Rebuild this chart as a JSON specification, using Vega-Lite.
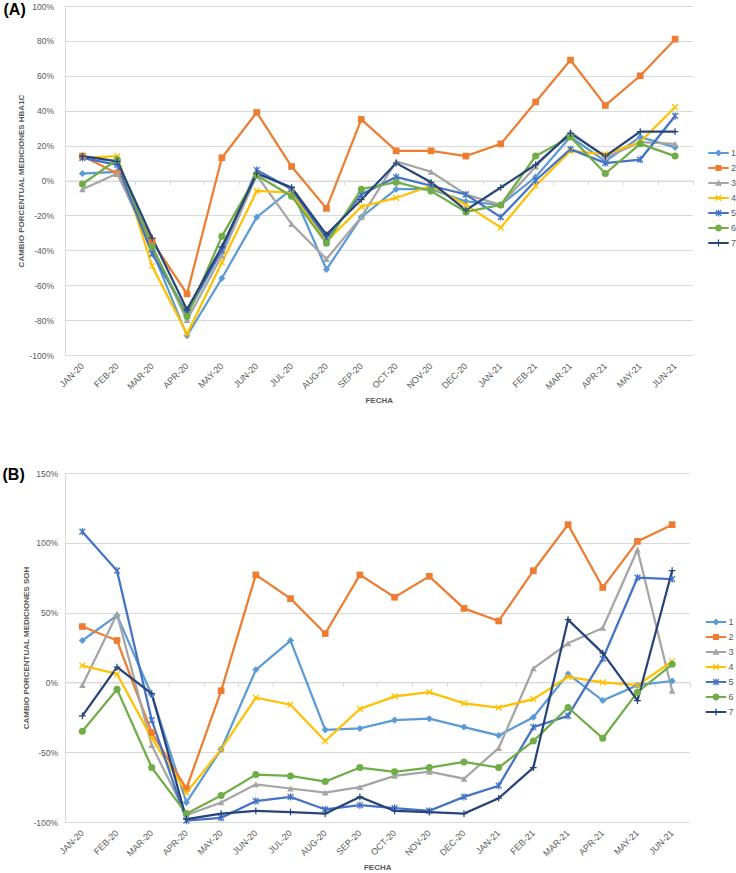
{
"$schema":"https://vega.github.io/schema/vega-lite/v6.json",
"padding":{"left":2,"top":1,"right":0,"bottom":0},
"spacing":61,
"datasets":{
"a":[
{"fecha":"JAN-20","serie":"1","valor":4},{"fecha":"JAN-20","serie":"2","valor":14},{"fecha":"JAN-20","serie":"3","valor":-5},{"fecha":"JAN-20","serie":"4","valor":13},{"fecha":"JAN-20","serie":"5","valor":13},{"fecha":"JAN-20","serie":"6","valor":-2},{"fecha":"JAN-20","serie":"7","valor":14},
{"fecha":"FEB-20","serie":"1","valor":5},{"fecha":"FEB-20","serie":"2","valor":4},{"fecha":"FEB-20","serie":"3","valor":4},{"fecha":"FEB-20","serie":"4","valor":14},{"fecha":"FEB-20","serie":"5","valor":9},{"fecha":"FEB-20","serie":"6","valor":12},{"fecha":"FEB-20","serie":"7","valor":11},
{"fecha":"MAR-20","serie":"1","valor":-40},{"fecha":"MAR-20","serie":"2","valor":-35},{"fecha":"MAR-20","serie":"3","valor":-38},{"fecha":"MAR-20","serie":"4","valor":-49},{"fecha":"MAR-20","serie":"5","valor":-42},{"fecha":"MAR-20","serie":"6","valor":-38},{"fecha":"MAR-20","serie":"7","valor":-33},
{"fecha":"APR-20","serie":"1","valor":-89},{"fecha":"APR-20","serie":"2","valor":-65},{"fecha":"APR-20","serie":"3","valor":-80},{"fecha":"APR-20","serie":"4","valor":-88},{"fecha":"APR-20","serie":"5","valor":-76},{"fecha":"APR-20","serie":"6","valor":-78},{"fecha":"APR-20","serie":"7","valor":-74},
{"fecha":"MAY-20","serie":"1","valor":-56},{"fecha":"MAY-20","serie":"2","valor":13},{"fecha":"MAY-20","serie":"3","valor":-43},{"fecha":"MAY-20","serie":"4","valor":-47},{"fecha":"MAY-20","serie":"5","valor":-40},{"fecha":"MAY-20","serie":"6","valor":-32},{"fecha":"MAY-20","serie":"7","valor":-38},
{"fecha":"JUN-20","serie":"1","valor":-21},{"fecha":"JUN-20","serie":"2","valor":39},{"fecha":"JUN-20","serie":"3","valor":3},{"fecha":"JUN-20","serie":"4","valor":-6},{"fecha":"JUN-20","serie":"5","valor":6},{"fecha":"JUN-20","serie":"6","valor":3},{"fecha":"JUN-20","serie":"7","valor":4},
{"fecha":"JUL-20","serie":"1","valor":-5},{"fecha":"JUL-20","serie":"2","valor":8},{"fecha":"JUL-20","serie":"3","valor":-25},{"fecha":"JUL-20","serie":"4","valor":-7},{"fecha":"JUL-20","serie":"5","valor":-5},{"fecha":"JUL-20","serie":"6","valor":-9},{"fecha":"JUL-20","serie":"7","valor":-4},
{"fecha":"AUG-20","serie":"1","valor":-51},{"fecha":"AUG-20","serie":"2","valor":-16},{"fecha":"AUG-20","serie":"3","valor":-45},{"fecha":"AUG-20","serie":"4","valor":-35},{"fecha":"AUG-20","serie":"5","valor":-33},{"fecha":"AUG-20","serie":"6","valor":-36},{"fecha":"AUG-20","serie":"7","valor":-31},
{"fecha":"SEP-20","serie":"1","valor":-21},{"fecha":"SEP-20","serie":"2","valor":35},{"fecha":"SEP-20","serie":"3","valor":-21},{"fecha":"SEP-20","serie":"4","valor":-15},{"fecha":"SEP-20","serie":"5","valor":-8},{"fecha":"SEP-20","serie":"6","valor":-5},{"fecha":"SEP-20","serie":"7","valor":-11},
{"fecha":"OCT-20","serie":"1","valor":-5},{"fecha":"OCT-20","serie":"2","valor":17},{"fecha":"OCT-20","serie":"3","valor":11},{"fecha":"OCT-20","serie":"4","valor":-10},{"fecha":"OCT-20","serie":"5","valor":2},{"fecha":"OCT-20","serie":"6","valor":-1},{"fecha":"OCT-20","serie":"7","valor":10},
{"fecha":"NOV-20","serie":"1","valor":-5},{"fecha":"NOV-20","serie":"2","valor":17},{"fecha":"NOV-20","serie":"3","valor":5},{"fecha":"NOV-20","serie":"4","valor":-3},{"fecha":"NOV-20","serie":"5","valor":-3},{"fecha":"NOV-20","serie":"6","valor":-6},{"fecha":"NOV-20","serie":"7","valor":-1},
{"fecha":"DEC-20","serie":"1","valor":-12},{"fecha":"DEC-20","serie":"2","valor":14},{"fecha":"DEC-20","serie":"3","valor":-8},{"fecha":"DEC-20","serie":"4","valor":-14},{"fecha":"DEC-20","serie":"5","valor":-8},{"fecha":"DEC-20","serie":"6","valor":-18},{"fecha":"DEC-20","serie":"7","valor":-17},
{"fecha":"JAN-21","serie":"1","valor":-14},{"fecha":"JAN-21","serie":"2","valor":21},{"fecha":"JAN-21","serie":"3","valor":-14},{"fecha":"JAN-21","serie":"4","valor":-27},{"fecha":"JAN-21","serie":"5","valor":-21},{"fecha":"JAN-21","serie":"6","valor":-14},{"fecha":"JAN-21","serie":"7","valor":-4},
{"fecha":"FEB-21","serie":"1","valor":2},{"fecha":"FEB-21","serie":"2","valor":45},{"fecha":"FEB-21","serie":"3","valor":8},{"fecha":"FEB-21","serie":"4","valor":-3},{"fecha":"FEB-21","serie":"5","valor":0},{"fecha":"FEB-21","serie":"6","valor":14},{"fecha":"FEB-21","serie":"7","valor":9},
{"fecha":"MAR-21","serie":"1","valor":25},{"fecha":"MAR-21","serie":"2","valor":69},{"fecha":"MAR-21","serie":"3","valor":28},{"fecha":"MAR-21","serie":"4","valor":17},{"fecha":"MAR-21","serie":"5","valor":18},{"fecha":"MAR-21","serie":"6","valor":25},{"fecha":"MAR-21","serie":"7","valor":27},
{"fecha":"APR-21","serie":"1","valor":11},{"fecha":"APR-21","serie":"2","valor":43},{"fecha":"APR-21","serie":"3","valor":13},{"fecha":"APR-21","serie":"4","valor":15},{"fecha":"APR-21","serie":"5","valor":10},{"fecha":"APR-21","serie":"6","valor":4},{"fecha":"APR-21","serie":"7","valor":14},
{"fecha":"MAY-21","serie":"1","valor":25},{"fecha":"MAY-21","serie":"2","valor":60},{"fecha":"MAY-21","serie":"3","valor":22},{"fecha":"MAY-21","serie":"4","valor":22},{"fecha":"MAY-21","serie":"5","valor":12},{"fecha":"MAY-21","serie":"6","valor":21},{"fecha":"MAY-21","serie":"7","valor":28},
{"fecha":"JUN-21","serie":"1","valor":19},{"fecha":"JUN-21","serie":"2","valor":81},{"fecha":"JUN-21","serie":"3","valor":21},{"fecha":"JUN-21","serie":"4","valor":42},{"fecha":"JUN-21","serie":"5","valor":37},{"fecha":"JUN-21","serie":"6","valor":14},{"fecha":"JUN-21","serie":"7","valor":28}
],
"b":[
{"fecha":"JAN-20","serie":"1","valor":30},{"fecha":"JAN-20","serie":"2","valor":40},{"fecha":"JAN-20","serie":"3","valor":-2},{"fecha":"JAN-20","serie":"4","valor":12},{"fecha":"JAN-20","serie":"5","valor":108},{"fecha":"JAN-20","serie":"6","valor":-35},{"fecha":"JAN-20","serie":"7","valor":-24},
{"fecha":"FEB-20","serie":"1","valor":48},{"fecha":"FEB-20","serie":"2","valor":30},{"fecha":"FEB-20","serie":"3","valor":49},{"fecha":"FEB-20","serie":"4","valor":6},{"fecha":"FEB-20","serie":"5","valor":80},{"fecha":"FEB-20","serie":"6","valor":-5},{"fecha":"FEB-20","serie":"7","valor":11},
{"fecha":"MAR-20","serie":"1","valor":-9},{"fecha":"MAR-20","serie":"2","valor":-36},{"fecha":"MAR-20","serie":"3","valor":-45},{"fecha":"MAR-20","serie":"4","valor":-40},{"fecha":"MAR-20","serie":"5","valor":-27},{"fecha":"MAR-20","serie":"6","valor":-61},{"fecha":"MAR-20","serie":"7","valor":-8},
{"fecha":"APR-20","serie":"1","valor":-86},{"fecha":"APR-20","serie":"2","valor":-76},{"fecha":"APR-20","serie":"3","valor":-95},{"fecha":"APR-20","serie":"4","valor":-79},{"fecha":"APR-20","serie":"5","valor":-99},{"fecha":"APR-20","serie":"6","valor":-94},{"fecha":"APR-20","serie":"7","valor":-98},
{"fecha":"MAY-20","serie":"1","valor":-48},{"fecha":"MAY-20","serie":"2","valor":-6},{"fecha":"MAY-20","serie":"3","valor":-86},{"fecha":"MAY-20","serie":"4","valor":-48},{"fecha":"MAY-20","serie":"5","valor":-97},{"fecha":"MAY-20","serie":"6","valor":-81},{"fecha":"MAY-20","serie":"7","valor":-94},
{"fecha":"JUN-20","serie":"1","valor":9},{"fecha":"JUN-20","serie":"2","valor":77},{"fecha":"JUN-20","serie":"3","valor":-73},{"fecha":"JUN-20","serie":"4","valor":-11},{"fecha":"JUN-20","serie":"5","valor":-85},{"fecha":"JUN-20","serie":"6","valor":-66},{"fecha":"JUN-20","serie":"7","valor":-92},
{"fecha":"JUL-20","serie":"1","valor":30},{"fecha":"JUL-20","serie":"2","valor":60},{"fecha":"JUL-20","serie":"3","valor":-76},{"fecha":"JUL-20","serie":"4","valor":-16},{"fecha":"JUL-20","serie":"5","valor":-82},{"fecha":"JUL-20","serie":"6","valor":-67},{"fecha":"JUL-20","serie":"7","valor":-93},
{"fecha":"AUG-20","serie":"1","valor":-34},{"fecha":"AUG-20","serie":"2","valor":35},{"fecha":"AUG-20","serie":"3","valor":-79},{"fecha":"AUG-20","serie":"4","valor":-42},{"fecha":"AUG-20","serie":"5","valor":-91},{"fecha":"AUG-20","serie":"6","valor":-71},{"fecha":"AUG-20","serie":"7","valor":-94},
{"fecha":"SEP-20","serie":"1","valor":-33},{"fecha":"SEP-20","serie":"2","valor":77},{"fecha":"SEP-20","serie":"3","valor":-75},{"fecha":"SEP-20","serie":"4","valor":-19},{"fecha":"SEP-20","serie":"5","valor":-88},{"fecha":"SEP-20","serie":"6","valor":-61},{"fecha":"SEP-20","serie":"7","valor":-82},
{"fecha":"OCT-20","serie":"1","valor":-27},{"fecha":"OCT-20","serie":"2","valor":61},{"fecha":"OCT-20","serie":"3","valor":-67},{"fecha":"OCT-20","serie":"4","valor":-10},{"fecha":"OCT-20","serie":"5","valor":-90},{"fecha":"OCT-20","serie":"6","valor":-64},{"fecha":"OCT-20","serie":"7","valor":-92},
{"fecha":"NOV-20","serie":"1","valor":-26},{"fecha":"NOV-20","serie":"2","valor":76},{"fecha":"NOV-20","serie":"3","valor":-64},{"fecha":"NOV-20","serie":"4","valor":-7},{"fecha":"NOV-20","serie":"5","valor":-92},{"fecha":"NOV-20","serie":"6","valor":-61},{"fecha":"NOV-20","serie":"7","valor":-93},
{"fecha":"DEC-20","serie":"1","valor":-32},{"fecha":"DEC-20","serie":"2","valor":53},{"fecha":"DEC-20","serie":"3","valor":-69},{"fecha":"DEC-20","serie":"4","valor":-15},{"fecha":"DEC-20","serie":"5","valor":-82},{"fecha":"DEC-20","serie":"6","valor":-57},{"fecha":"DEC-20","serie":"7","valor":-94},
{"fecha":"JAN-21","serie":"1","valor":-38},{"fecha":"JAN-21","serie":"2","valor":44},{"fecha":"JAN-21","serie":"3","valor":-47},{"fecha":"JAN-21","serie":"4","valor":-18},{"fecha":"JAN-21","serie":"5","valor":-74},{"fecha":"JAN-21","serie":"6","valor":-61},{"fecha":"JAN-21","serie":"7","valor":-83},
{"fecha":"FEB-21","serie":"1","valor":-25},{"fecha":"FEB-21","serie":"2","valor":80},{"fecha":"FEB-21","serie":"3","valor":10},{"fecha":"FEB-21","serie":"4","valor":-12},{"fecha":"FEB-21","serie":"5","valor":-32},{"fecha":"FEB-21","serie":"6","valor":-42},{"fecha":"FEB-21","serie":"7","valor":-61},
{"fecha":"MAR-21","serie":"1","valor":6},{"fecha":"MAR-21","serie":"2","valor":113},{"fecha":"MAR-21","serie":"3","valor":28},{"fecha":"MAR-21","serie":"4","valor":4},{"fecha":"MAR-21","serie":"5","valor":-24},{"fecha":"MAR-21","serie":"6","valor":-18},{"fecha":"MAR-21","serie":"7","valor":45},
{"fecha":"APR-21","serie":"1","valor":-13},{"fecha":"APR-21","serie":"2","valor":68},{"fecha":"APR-21","serie":"3","valor":39},{"fecha":"APR-21","serie":"4","valor":0},{"fecha":"APR-21","serie":"5","valor":17},{"fecha":"APR-21","serie":"6","valor":-40},{"fecha":"APR-21","serie":"7","valor":21},
{"fecha":"MAY-21","serie":"1","valor":-2},{"fecha":"MAY-21","serie":"2","valor":101},{"fecha":"MAY-21","serie":"3","valor":95},{"fecha":"MAY-21","serie":"4","valor":-2},{"fecha":"MAY-21","serie":"5","valor":75},{"fecha":"MAY-21","serie":"6","valor":-7},{"fecha":"MAY-21","serie":"7","valor":-13},
{"fecha":"JUN-21","serie":"1","valor":1},{"fecha":"JUN-21","serie":"2","valor":113},{"fecha":"JUN-21","serie":"3","valor":-6},{"fecha":"JUN-21","serie":"4","valor":15},{"fecha":"JUN-21","serie":"5","valor":74},{"fecha":"JUN-21","serie":"6","valor":13},{"fecha":"JUN-21","serie":"7","valor":80}
]
},
"resolve":{"scale":{"color":"independent"},"legend":{"color":"independent"}},
"vconcat":[
{
"width":627.5,"height":349,
"data":{"name":"a"},
"title":{"text":"(A)","anchor":"start","frame":"group","dx":-61.5,"offset":-28.5,"baseline":"alphabetic","fontSize":16,"fontWeight":"bold","color":"#000000","font":"Liberation Sans"},
"encoding":{
"y":{"field":"valor","type":"quantitative","scale":{"domain":[-100,100],"nice":false,"zero":false},
"axis":{"values":[-100,-80,-60,-40,-20,0,20,40,60,80,100],"labelExpr":"datum.value + '%'","title":"CAMBIO PORCENTUAL MEDICIONES HBA1C","grid":true,"gridColor":"#D9D9D9","domain":true,"domainColor":"#D9D9D9","ticks":false,"labelPadding":11.5,"labelFontSize":8.5,"labelColor":"#595959","titleFontSize":8,"titleFontWeight":"bold","titleColor":"#595959","titlePadding":3}}
},
"resolve":{"axis":{"x":"independent"}},
"layer":[
{"mark":{"type":"line","strokeWidth":2.25},
"encoding":{"x":{"field":"fecha","type":"ordinal","sort":["JAN-20","FEB-20","MAR-20","APR-20","MAY-20","JUN-20","JUL-20","AUG-20","SEP-20","OCT-20","NOV-20","DEC-20","JAN-21","FEB-21","MAR-21","APR-21","MAY-21","JUN-21"],"bandPosition":0.5,"scale":{"type":"band","paddingInner":0,"paddingOuter":0},
"axis":{"orient":"bottom","title":"FECHA","labelAngle":-45,"labelAlign":"right","labelBaseline":"middle","labelPadding":9,"ticks":false,"domain":false,"grid":false,"labelFontSize":9,"labelColor":"#595959","titleFontSize":8,"titleFontWeight":"bold","titleColor":"#595959","titlePadding":6}},
"color":{"field":"serie","type":"nominal","scale":{"domain":["1","2","3","4","5","6","7"],"range":["#5B9BD5","#ED7D31","#A5A5A5","#FFC000","#4472C4","#70AD47","#264478"]},
"legend":{"orient":"none","legendX":645,"legendY":138.5,"title":null,"symbolSize":289,"padding":0,"rowPadding":1,"labelFontSize":9,"labelColor":"#595959","labelOffset":4,
"encode":{"symbols":{"update":{
"shape":{"signal":"['M-1.2,-0.13H1.2V0.13H-1.2ZM0,-0.42L0.42,0L0,0.42L-0.42,0Z','M-1.2,-0.13H1.2V0.13H-1.2ZM-0.36,-0.36H0.36V0.36H-0.36Z','M-1.2,-0.13H1.2V0.13H-1.2ZM0,-0.4L0.42,0.32H-0.42Z','M-1.2,-0.13H1.2V0.13H-1.2ZM-0.38,-0.27L-0.27,-0.38L0.38,0.27L0.27,0.38ZM0.27,-0.38L0.38,-0.27L-0.27,0.38L-0.38,0.27Z','M-1.2,-0.13H1.2V0.13H-1.2ZM-0.38,-0.27L-0.27,-0.38L0.38,0.27L0.27,0.38ZM0.27,-0.38L0.38,-0.27L-0.27,0.38L-0.38,0.27ZM-0.07,-0.42H0.07V0.42H-0.07Z','M-1.2,-0.13H1.2V0.13H-1.2ZM0.4,0A0.4,0.4 0 1 1 -0.4,0A0.4,0.4 0 1 1 0.4,0Z','M-1.2,-0.13H1.2V0.13H-1.2ZM-0.4,-0.07H-0.07V-0.4H0.07V-0.07H0.4V0.07H0.07V0.4H-0.07V0.07H-0.4Z'][toNumber(datum.value)-1]"},
"fill":{"signal":"['#5B9BD5','#ED7D31','#A5A5A5','#FFC000','#4472C4','#70AD47','#264478'][toNumber(datum.value)-1]"},
"stroke":{"value":"transparent"},"strokeWidth":{"value":0},"opacity":{"value":1}}}}}}}},
{"encoding":{"x":{"field":"fecha","type":"ordinal","sort":["JAN-20","FEB-20","MAR-20","APR-20","MAY-20","JUN-20","JUL-20","AUG-20","SEP-20","OCT-20","NOV-20","DEC-20","JAN-21","FEB-21","MAR-21","APR-21","MAY-21","JUN-21"],"bandPosition":0.5,"scale":{"type":"band","paddingInner":0,"paddingOuter":0},
"axis":{"orient":"bottom","offset":-174.5,"labels":false,"title":null,"ticks":true,"tickBand":"extent","tickSize":4,"tickColor":"#D9D9D9","domain":true,"domainColor":"#D9D9D9","grid":false}},
"color":{"field":"serie","type":"nominal","legend":null}},
"layer":[
{"transform":[{"filter":{"field":"serie","equal":"1"}}],"mark":{"type":"point","shape":"diamond","filled":true,"size":50,"opacity":1,"strokeWidth":0}},
{"transform":[{"filter":{"field":"serie","equal":"2"}}],"mark":{"type":"point","shape":"square","filled":true,"size":45,"opacity":1,"strokeWidth":0}},
{"transform":[{"filter":{"field":"serie","equal":"3"}}],"mark":{"type":"point","shape":"triangle-up","filled":true,"size":45,"opacity":1,"strokeWidth":0}},
{"transform":[{"filter":{"field":"serie","equal":"4"}}],"mark":{"type":"point","shape":"M-1,-0.72L-0.72,-1L1,0.72L0.72,1ZM0.72,-1L1,-0.72L-0.72,1L-1,0.72Z","filled":true,"size":45,"opacity":1,"strokeWidth":0}},
{"transform":[{"filter":{"field":"serie","equal":"5"}}],"mark":{"type":"point","shape":"M-1,-0.72L-0.72,-1L1,0.72L0.72,1ZM0.72,-1L1,-0.72L-0.72,1L-1,0.72ZM-0.18,-1.1H0.18V1.1H-0.18Z","filled":true,"size":45,"opacity":1,"strokeWidth":0}},
{"transform":[{"filter":{"field":"serie","equal":"6"}}],"mark":{"type":"point","shape":"circle","filled":true,"size":50,"opacity":1,"strokeWidth":0}},
{"transform":[{"filter":{"field":"serie","equal":"7"}}],"mark":{"type":"point","shape":"M-1,-0.18H-0.18V-1H0.18V-0.18H1V0.18H0.18V1H-0.18V0.18H-1Z","filled":true,"size":45,"opacity":1,"strokeWidth":0}}
]}
]
},
{
"width":624.5,"height":349,
"data":{"name":"b"},
"title":{"text":"(B)","anchor":"start","frame":"group","dx":-62.5,"offset":-26.5,"baseline":"alphabetic","fontSize":16,"fontWeight":"bold","color":"#000000","font":"Liberation Sans"},
"encoding":{
"y":{"field":"valor","type":"quantitative","scale":{"domain":[-100,150],"nice":false,"zero":false},
"axis":{"values":[-100,-50,0,50,100,150],"labelExpr":"datum.value + '%'","title":"CAMBIO PORCENTUAL MEDICIONES SOH","grid":true,"gridColor":"#D9D9D9","domain":true,"domainColor":"#D9D9D9","ticks":false,"labelPadding":7.5,"labelFontSize":8.5,"labelColor":"#595959","titleFontSize":8,"titleFontWeight":"bold","titleColor":"#595959","titlePadding":2}}
},
"resolve":{"axis":{"x":"independent"}},
"layer":[
{"mark":{"type":"line","strokeWidth":2.25},
"encoding":{"x":{"field":"fecha","type":"ordinal","sort":["JAN-20","FEB-20","MAR-20","APR-20","MAY-20","JUN-20","JUL-20","AUG-20","SEP-20","OCT-20","NOV-20","DEC-20","JAN-21","FEB-21","MAR-21","APR-21","MAY-21","JUN-21"],"bandPosition":0.5,"scale":{"type":"band","paddingInner":0,"paddingOuter":0},
"axis":{"orient":"bottom","title":"FECHA","labelAngle":-45,"labelAlign":"right","labelBaseline":"middle","labelPadding":9,"ticks":false,"domain":false,"grid":false,"labelFontSize":9,"labelColor":"#595959","titleFontSize":8,"titleFontWeight":"bold","titleColor":"#595959","titlePadding":6}},
"color":{"field":"serie","type":"nominal","scale":{"domain":["1","2","3","4","5","6","7"],"range":["#5B9BD5","#ED7D31","#A5A5A5","#FFC000","#4472C4","#70AD47","#264478"]},
"legend":{"orient":"none","legendX":642.5,"legendY":140.5,"title":null,"symbolSize":289,"padding":0,"rowPadding":1,"labelFontSize":9,"labelColor":"#595959","labelOffset":4,
"encode":{"symbols":{"update":{
"shape":{"signal":"['M-1.2,-0.13H1.2V0.13H-1.2ZM0,-0.42L0.42,0L0,0.42L-0.42,0Z','M-1.2,-0.13H1.2V0.13H-1.2ZM-0.36,-0.36H0.36V0.36H-0.36Z','M-1.2,-0.13H1.2V0.13H-1.2ZM0,-0.4L0.42,0.32H-0.42Z','M-1.2,-0.13H1.2V0.13H-1.2ZM-0.38,-0.27L-0.27,-0.38L0.38,0.27L0.27,0.38ZM0.27,-0.38L0.38,-0.27L-0.27,0.38L-0.38,0.27Z','M-1.2,-0.13H1.2V0.13H-1.2ZM-0.38,-0.27L-0.27,-0.38L0.38,0.27L0.27,0.38ZM0.27,-0.38L0.38,-0.27L-0.27,0.38L-0.38,0.27ZM-0.07,-0.42H0.07V0.42H-0.07Z','M-1.2,-0.13H1.2V0.13H-1.2ZM0.4,0A0.4,0.4 0 1 1 -0.4,0A0.4,0.4 0 1 1 0.4,0Z','M-1.2,-0.13H1.2V0.13H-1.2ZM-0.4,-0.07H-0.07V-0.4H0.07V-0.07H0.4V0.07H0.07V0.4H-0.07V0.07H-0.4Z'][toNumber(datum.value)-1]"},
"fill":{"signal":"['#5B9BD5','#ED7D31','#A5A5A5','#FFC000','#4472C4','#70AD47','#264478'][toNumber(datum.value)-1]"},
"stroke":{"value":"transparent"},"strokeWidth":{"value":0},"opacity":{"value":1}}}}}}}},
{"encoding":{"x":{"field":"fecha","type":"ordinal","sort":["JAN-20","FEB-20","MAR-20","APR-20","MAY-20","JUN-20","JUL-20","AUG-20","SEP-20","OCT-20","NOV-20","DEC-20","JAN-21","FEB-21","MAR-21","APR-21","MAY-21","JUN-21"],"bandPosition":0.5,"scale":{"type":"band","paddingInner":0,"paddingOuter":0},
"axis":{"orient":"bottom","offset":-139.6,"labels":false,"title":null,"ticks":true,"tickBand":"extent","tickSize":4,"tickColor":"#D9D9D9","domain":true,"domainColor":"#D9D9D9","grid":false}},
"color":{"field":"serie","type":"nominal","legend":null}},
"layer":[
{"transform":[{"filter":{"field":"serie","equal":"1"}}],"mark":{"type":"point","shape":"diamond","filled":true,"size":50,"opacity":1,"strokeWidth":0}},
{"transform":[{"filter":{"field":"serie","equal":"2"}}],"mark":{"type":"point","shape":"square","filled":true,"size":45,"opacity":1,"strokeWidth":0}},
{"transform":[{"filter":{"field":"serie","equal":"3"}}],"mark":{"type":"point","shape":"triangle-up","filled":true,"size":45,"opacity":1,"strokeWidth":0}},
{"transform":[{"filter":{"field":"serie","equal":"4"}}],"mark":{"type":"point","shape":"M-1,-0.72L-0.72,-1L1,0.72L0.72,1ZM0.72,-1L1,-0.72L-0.72,1L-1,0.72Z","filled":true,"size":45,"opacity":1,"strokeWidth":0}},
{"transform":[{"filter":{"field":"serie","equal":"5"}}],"mark":{"type":"point","shape":"M-1,-0.72L-0.72,-1L1,0.72L0.72,1ZM0.72,-1L1,-0.72L-0.72,1L-1,0.72ZM-0.18,-1.1H0.18V1.1H-0.18Z","filled":true,"size":45,"opacity":1,"strokeWidth":0}},
{"transform":[{"filter":{"field":"serie","equal":"6"}}],"mark":{"type":"point","shape":"circle","filled":true,"size":50,"opacity":1,"strokeWidth":0}},
{"transform":[{"filter":{"field":"serie","equal":"7"}}],"mark":{"type":"point","shape":"M-1,-0.18H-0.18V-1H0.18V-0.18H1V0.18H0.18V1H-0.18V0.18H-1Z","filled":true,"size":45,"opacity":1,"strokeWidth":0}}
]}
]
}
],
"config":{"view":{"stroke":null},"axis":{"labelFont":"Liberation Sans","titleFont":"Liberation Sans"},"legend":{"labelFont":"Liberation Sans"},"title":{"font":"Liberation Sans"}}
}
